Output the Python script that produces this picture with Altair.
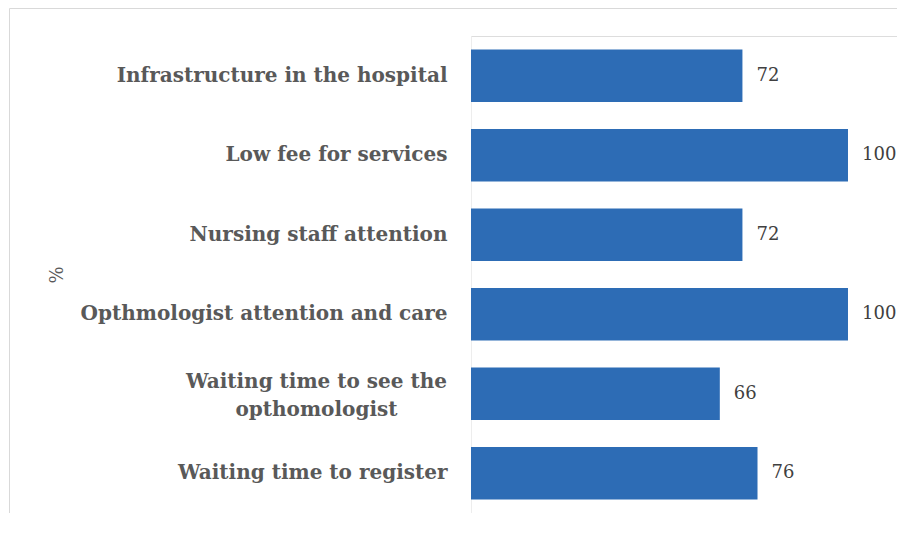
import altair as alt
import pandas as pd

categories = [
    "Infrastructure in the hospital",
    "Low fee for services",
    "Nursing staff attention",
    "Opthmologist attention and care",
    "Waiting time to see the|opthomologist",
    "Waiting time to register",
]
values = [72, 100, 72, 100, 66, 76]
axis_title = "%"

df = pd.DataFrame({"category": categories, "value": values})

FONT = "DejaVu Serif"
W, H = 426, 477
PAD_L, PAD_T = 463, 28
MULTI = "indexof(datum.value, '|') >= 0"

y_enc = alt.Y(
    "category:N",
    sort=categories,
    scale=alt.Scale(paddingInner=0.34, paddingOuter=0.17),
    axis=alt.Axis(
        title=axis_title,
        titleFont=FONT,
        titleFontSize=18,
        titleFontWeight="normal",
        titleColor="#595959",
        titleAngle=-90,
        titleAlign="center",
        titleBaseline="middle",
        titleX=-414,
        titleY=H / 2,
        labelFont=FONT,
        labelFontSize=20,
        labelFontWeight="bold",
        labelColor="#595959",
        labelExpr="split(datum.value, '|')",
        labelLineHeight=28,
        labelLimit=500,
        labelAlign={"condition": {"test": MULTI, "value": "center"}, "value": "right"},
        labelPadding={"condition": {"test": MULTI, "value": 155}, "value": 24},
        labelOffset={"condition": {"test": MULTI, "value": -12}, "value": 0},
        ticks=False,
        domain=True,
        domainColor="#ededed",
        domainWidth=1,
        grid=False,
    ),
)

x_enc = alt.X("value:Q", scale=alt.Scale(domain=[0, 113.0], nice=False, zero=True), axis=None)

bars = alt.Chart(df).mark_bar(color="#2d6cb5").encode(x=x_enc, y=y_enc)

labels = alt.Chart(df).mark_text(
    align="left", baseline="middle", dx=14, font=FONT, fontSize=18, color="#404040"
).encode(x=alt.X("value:Q"), y=alt.Y("category:N", sort=categories), text="value:Q")

frame_df = pd.DataFrame({"a": [0]})
left_border = alt.Chart(frame_df).mark_rule(color="#d9d9d9", strokeWidth=1).encode(
    x=alt.value(-PAD_L + 1.5), y=alt.value(-PAD_T + 0.5), y2=alt.value(H + 40)
)
top_border = alt.Chart(frame_df).mark_rule(color="#d9d9d9", strokeWidth=1).encode(
    x=alt.value(-PAD_L + 1.5), x2=alt.value(W + 10), y=alt.value(-PAD_T + 0.5)
)

chart = (
    alt.layer(bars, labels, left_border, top_border)
    .properties(
        width=W,
        height=H,
        autosize=alt.AutoSizeParams(type="none"),
        padding={"left": PAD_L, "top": PAD_T, "right": 0, "bottom": 0},
    )
    .configure_view(stroke=None)
    .configure(background="white")
)

chart.save("out.html", embed_options={"renderer": "svg", "actions": False})
